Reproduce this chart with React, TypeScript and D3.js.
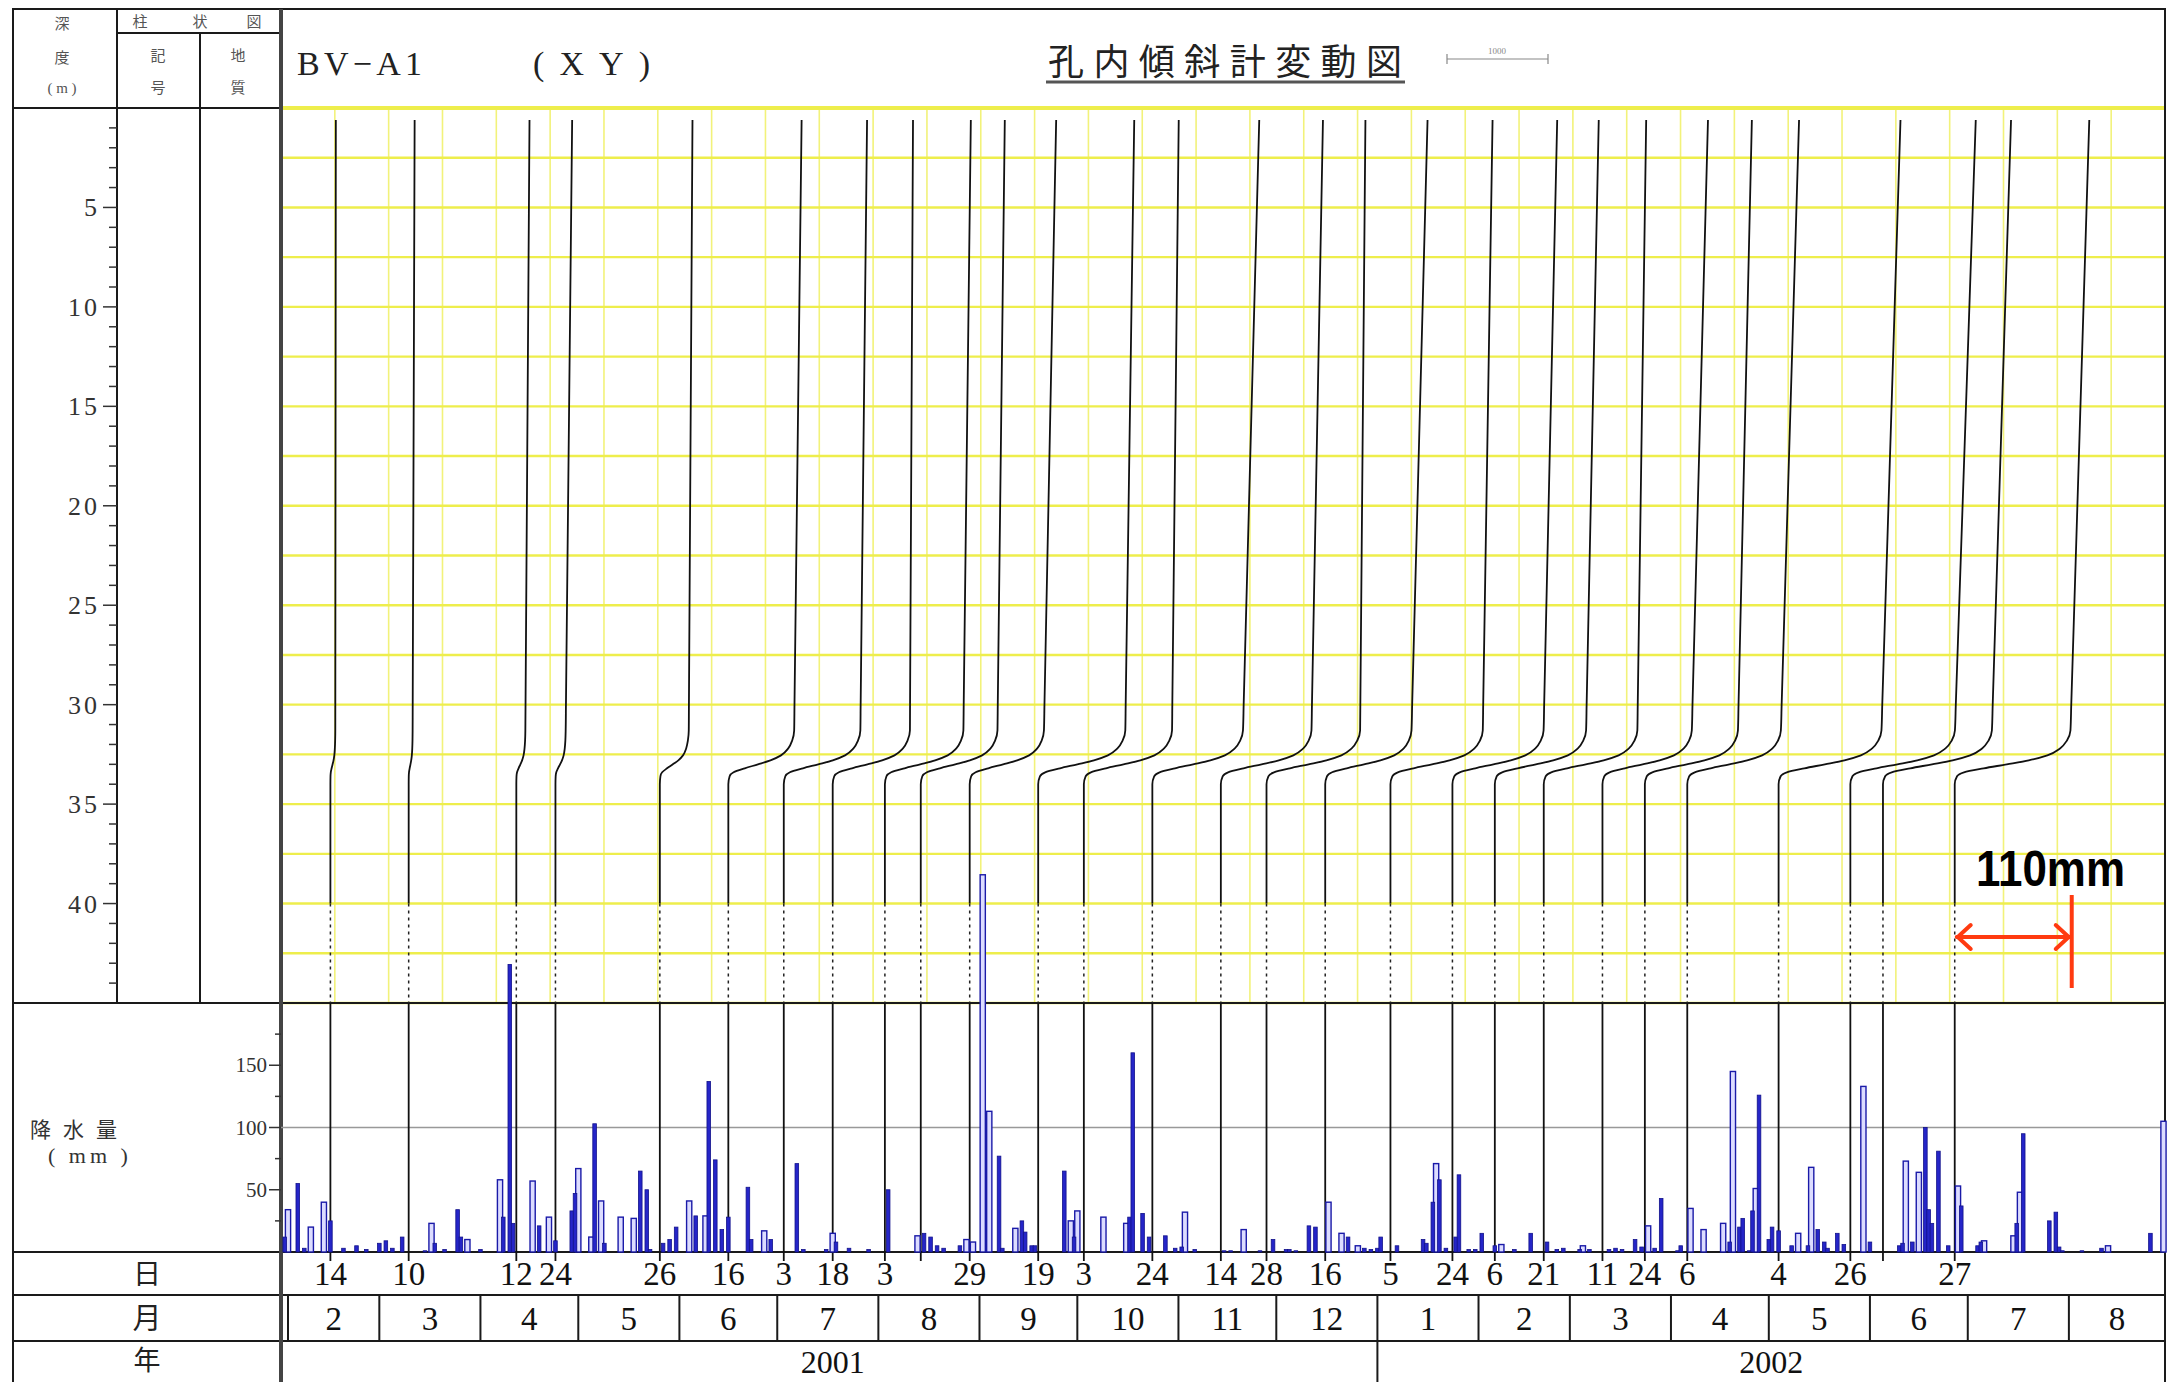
import React from 'react';
import * as d3 from 'd3';

const W = 2170, H = 1382;

// ---- data ----
const surveyDates = ['2001-02-14','2001-03-10','2001-04-12','2001-04-24','2001-05-26','2001-06-16','2001-07-03','2001-07-18','2001-08-03','2001-08-14','2001-08-29','2001-09-19','2001-10-03','2001-10-24','2001-11-14','2001-11-28','2001-12-16','2002-01-05','2002-01-24','2002-02-06','2002-02-21','2002-03-11','2002-03-24','2002-04-06','2002-05-04','2002-05-26','2002-06-05','2002-06-27'];
const dayLabels = ['14','10','12','24','26','16','3','18','3','','29','19','3','24','14','28','16','5','24','6','21','11','24','6','4','26','','27'];
// displacement (mm) just above the slip zone (~30 m) and at the top of the hole
const shearMm = [4.6,3.7,8.5,9.6,27.2,61.9,72.0,72.6,73.8,72.1,69.8,81.9,82.9,85.2,85.2,88.0,81.1,86.8,85.7,85.8,88.0,84.0,87.5,88.0,96.7,98.3,102.4,108.8];
const topMm = [5.1,5.6,12.4,15.7,30.7,68.9,78.3,75.5,80.8,79.0,81.3,90.3,89.2,100.5,96.0,93.0,96.2,96.0,98.5,97.7,96.3,99.2,100.6,105.1,114.6,117.9,120.4,126.5];
// shape of the slip zone: depth (m) and fraction of the shear displacement
const profileDepth = [31.3,31.8,32.2,32.55,32.8,33.0,33.2,33.4,33.6,34.0,40.0];
const profileFrac = [1.0,0.97,0.91,0.80,0.64,0.45,0.25,0.08,0.02,0,0];
const upperDepths = [0.6,10,20,30];

// daily precipitation: [day offset from 2001-02-01, mm]
const rainOutline = [[0,34],[7,20],[11,40],[44,23],[55,10],[65,58],[75,57],[80,28],[89,67],[93,12],[96,41],[102,28],[106,27],[123,41],[128,29],[146,17],[167,15],[193,13],[208,10],[210,8],[213,303],[215,113],[223,19],[240,25],[242,33],[250,28],[257,23],[275,32],[293,18],[319,40],[323,15],[328,5],[352,71],[372,6],[397,5],[417,21],[430,35],[434,18],[440,23],[443,145],[450,51],[463,15],[467,68],[483,133],[496,73],[500,64],[512,53],[520,9],[529,13],[531,48],[558,5],[575,105]];
const rainFilled = [[-1,12],[3,55],[5,3],[13,25],[17,3],[21,5],[24,2],[28,7],[30,9],[32,3],[35,12],[42,1],[45,7],[48,2],[52,34],[53,12],[59,2],[66,28],[68,231],[69,23],[77,21],[82,9],[87,33],[88,47],[94,103],[97,7],[108,65],[110,50],[111,2],[115,7],[117,10],[119,20],[125,29],[129,137],[131,74],[133,18],[135,28],[141,52],[142,10],[148,10],[156,71],[158,2],[165,2],[168,8],[172,3],[178,2],[184,50],[195,15],[197,12],[199,5],[201,3],[206,5],[218,77],[219,3],[225,25],[226,16],[228,5],[229,5],[238,65],[241,12],[258,28],[259,160],[262,31],[264,12],[269,13],[272,3],[274,4],[278,2],[287,1],[289,1],[298,1],[302,10],[306,2],[307,2],[309,1],[313,21],[315,20],[325,12],[330,3],[332,2],[334,3],[335,12],[340,5],[348,10],[349,7],[351,40],[353,58],[355,3],[358,12],[359,62],[362,2],[364,2],[366,15],[370,5],[376,2],[381,15],[386,8],[389,2],[391,3],[396,2],[399,2],[405,2],[407,3],[409,2],[413,10],[415,4],[419,3],[421,43],[426,1],[427,5],[442,8],[445,20],[446,27],[448,1],[449,33],[451,126],[454,10],[455,20],[457,17],[461,5],[466,5],[469,18],[471,8],[472,3],[475,15],[477,6],[485,8],[494,5],[495,7],[498,8],[502,100],[503,34],[504,23],[506,81],[509,5],[513,37],[518,5],[519,8],[530,23],[532,95],[540,25],[542,32],[543,4],[544,1],[550,1],[556,3],[571,15]];

const monthLabels = ['2','3','4','5','6','7','8','9','10','11','12','1','2','3','4','5','6','7','8'];
const yearLabels = ['2001','2002'];
const yearStarts = ['2001-02-01','2002-01-01'];
const depthTicks = [5,10,15,20,25,30,35,40];
const rainTicks = [50,100,150];
const annotationMm = 110;

// ---- layout ----
const L = 13, T = 9, R = 2165;
const C1 = 117, C2 = 200, P = 281;
const HB = 108, IB = 1003, RB = 1252, DB = 1295, MB = 1341;
const serif = '"Liberation Serif","DejaVu Serif",serif';
const cjk = '"Noto Sans CJK JP","Noto Sans CJK SC",sans-serif';

export default function App() {
  const parse = d3.timeParse('%Y-%m-%d');
  const t0 = new Date(2001, 1, 1);
  const t1 = new Date(2002, 8, 1);
  const x = d3.scaleTime().domain([t0, t1]).range([288, 2170]);
  const yD = d3.scaleLinear().domain([0, 45]).range([HB, IB]);
  const disp = d3.scaleLinear().domain([0, 110]).range([0, 117]);
  const yR = d3.scaleLinear().domain([0, 200]).range([RB, IB]);
  const line = d3.line<[number, number]>().x(p => p[0]).y(p => p[1]).curve(d3.curveMonotoneY);

  const bases = surveyDates.map(s => x(parse(s) as Date));

  const curvePath = (i: number) => {
    const b = bases[i], s = shearMm[i], t = topMm[i];
    const pts: [number, number][] = [];
    upperDepths.forEach(dz => {
      const d = s + (t - s) * (31.3 - dz) / (31.3 - 0.6);
      pts.push([b + disp(d), yD(dz)]);
    });
    profileDepth.forEach((dz, k) => pts.push([b + disp(s * profileFrac[k]), yD(dz)]));
    return line(pts) || '';
  };

  const monthStarts = monthLabels.map((_, i) => d3.timeMonth.offset(t0, i));
  const gridN = 35;
  const gridStep = (R - P) / gridN;
  const hGrid = d3.range(0, 45.01, 2.5);

  const lastBase = bases[bases.length - 1];
  const annX = lastBase + disp(annotationMm);
  const red = '#ff3a10';

  return (
    <svg width={W} height={H} style={{ position: 'absolute', left: 0, top: 0, background: '#fff' }}>
      <rect x={0} y={0} width={W} height={H} fill="#fff" />
      {/* yellow grid */}
      {d3.range(1, gridN).map(k => (
        <line key={'vg' + k} x1={P + k * gridStep} x2={P + k * gridStep} y1={HB} y2={IB} stroke="#f2f27a" strokeWidth={1.6} />
      ))}
      {hGrid.map((dz, k) => (
        <line key={'hg' + k} x1={P} x2={R} y1={yD(dz)} y2={yD(dz)} stroke="#eeee4c" strokeWidth={k === 0 ? 4 : 2.4} />
      ))}

      {/* frame */}
      <g stroke="#1a1a1a" strokeWidth={2} fill="none">
        <rect x={L} y={T} width={R - L} height={H + 10 - T} />
        <line x1={C1} x2={P} y1={33} y2={33} />
        <line x1={C2} x2={C2} y1={33} y2={IB} />
        <line x1={C1} x2={C1} y1={T} y2={IB} />
        <line x1={L} x2={P} y1={HB} y2={HB} />
        <line x1={L} x2={R} y1={IB} y2={IB} />
        <line x1={L} x2={R} y1={RB} y2={RB} />
        <line x1={L} x2={R} y1={DB} y2={DB} />
        <line x1={L} x2={R} y1={MB} y2={MB} />
        {monthStarts.map((m, i) => (
          <line key={'mb' + i} x1={x(m)} x2={x(m)} y1={DB} y2={MB} />
        ))}
        <line x1={x(parse(yearStarts[1]) as Date)} x2={x(parse(yearStarts[1]) as Date)} y1={MB} y2={H} />
      </g>
      <line x1={P} x2={P} y1={T} y2={H} stroke="#444" strokeWidth={4} />

      {/* depth axis */}
      <g stroke="#333" strokeWidth={1.5}>
        {d3.range(1, 45).map(dz => (
          <line key={'dt' + dz} x1={dz % 5 === 0 ? C1 - 14 : C1 - 8} x2={C1} y1={yD(dz)} y2={yD(dz)} />
        ))}
      </g>
      {depthTicks.map(dz => (
        <text key={'dl' + dz} x={100} y={yD(dz) + 9} textAnchor="end" fontFamily={serif} fontSize={26} letterSpacing={3} fill="#333">{dz}</text>
      ))}

      {/* precipitation axis */}
      <line x1={P} x2={R} y1={yR(100)} y2={yR(100)} stroke="#999" strokeWidth={1.5} />
      <g stroke="#333" strokeWidth={1.5}>
        {d3.range(25, 200, 25).map(v => (
          <line key={'rt' + v} x1={v % 50 === 0 ? P - 12 : P - 6} x2={P} y1={yR(v)} y2={yR(v)} />
        ))}
      </g>
      {rainTicks.map(v => (
        <text key={'rl' + v} x={267} y={yR(v) + 7} textAnchor="end" fontFamily={serif} fontSize={21} fill="#333">{v}</text>
      ))}
      <text x={30} y={1137} fontFamily={cjk} fontSize={21} letterSpacing={12} fill="#333">降水量</text>
      <text x={48} y={1163} fontFamily={serif} fontSize={22} letterSpacing={4} fill="#333">( mm )</text>

      {/* survey lines through the precipitation panel */}
      {bases.map((b, i) => (
        <g key={'sl' + i}>
          <line x1={b} x2={b} y1={yD(40)} y2={yD(45)} stroke="#222" strokeWidth={1.5} strokeDasharray="3,4" />
          <line x1={b} x2={b} y1={IB} y2={RB + 9} stroke="#111" strokeWidth={1.8} />
        </g>
      ))}

      {/* rainfall bars */}
      {rainOutline.map(([d, v], i) => {
        const cx = x(d3.timeDay.offset(t0, d));
        return <rect key={'ro' + i} x={cx - 2.6} y={yR(v)} width={5.2} height={RB - yR(v)} fill="#dcdcff" stroke="#1a1aa8" strokeWidth={1.4} />;
      })}
      {rainFilled.map(([d, v], i) => {
        const cx = x(d3.timeDay.offset(t0, d));
        return <rect key={'rf' + i} x={cx - 1.8} y={yR(v)} width={3.6} height={RB - yR(v)} fill="#2525c8" stroke="#12128a" strokeWidth={0.8} />;
      })}

      {/* inclinometer curves */}
      {bases.map((_, i) => (
        <path key={'cv' + i} d={curvePath(i)} fill="none" stroke="#111" strokeWidth={1.8} />
      ))}

      {/* 110 mm annotation */}
      <g stroke={red} strokeWidth={4} fill="none" strokeLinecap="round">
        <line x1={lastBase + 2} x2={annX - 2} y1={937} y2={937} />
        <polyline points={`${lastBase + 16},925 ${lastBase + 3},937 ${lastBase + 16},949`} />
        <polyline points={`${annX - 16},925 ${annX - 3},937 ${annX - 16},949`} />
        <line x1={annX} x2={annX} y1={895} y2={988} strokeLinecap="butt" />
      </g>
      <text x={1976} y={886} fontFamily='"Liberation Sans",Arial,sans-serif' fontWeight="bold" fontSize={50} textLength={149} lengthAdjust="spacingAndGlyphs" fill="#000">110mm</text>

      {/* header */}
      <text x={62} y={29} textAnchor="middle" fontFamily={cjk} fontSize={15} fill="#555">深</text>
      <text x={62} y={63} textAnchor="middle" fontFamily={cjk} fontSize={15} fill="#555">度</text>
      <text x={62} y={93} textAnchor="middle" fontFamily={serif} fontSize={15} fill="#555">( m )</text>
      <text x={140} y={27} textAnchor="middle" fontFamily={cjk} fontSize={15} fill="#555">柱</text>
      <text x={200} y={27} textAnchor="middle" fontFamily={cjk} fontSize={15} fill="#555">状</text>
      <text x={254} y={27} textAnchor="middle" fontFamily={cjk} fontSize={15} fill="#555">図</text>
      <text x={158} y={61} textAnchor="middle" fontFamily={cjk} fontSize={15} fill="#555">記</text>
      <text x={158} y={93} textAnchor="middle" fontFamily={cjk} fontSize={15} fill="#555">号</text>
      <text x={238} y={61} textAnchor="middle" fontFamily={cjk} fontSize={15} fill="#555">地</text>
      <text x={238} y={93} textAnchor="middle" fontFamily={cjk} fontSize={15} fill="#555">質</text>

      <text x={297} y={75} fontFamily={serif} fontSize={34} textLength={125} lengthAdjust="spacing" fill="#222">BV−A1</text>
      <text x={533} y={75} fontFamily={serif} fontSize={34} textLength={117} lengthAdjust="spacing" fill="#222">(XY)</text>
      <text x={1048} y={75} fontFamily={cjk} fontSize={36} textLength={354} lengthAdjust="spacing" fill="#222">孔内傾斜計変動図</text>
      <line x1={1046} x2={1405} y1={82} y2={82} stroke="#555" strokeWidth={3} />
      <g stroke="#888" strokeWidth={1.2}>
        <line x1={1447} x2={1548} y1={59} y2={59} />
        <line x1={1447} x2={1447} y1={54} y2={64} />
        <line x1={1548} x2={1548} y1={54} y2={64} />
      </g>
      <text x={1497} y={54} textAnchor="middle" fontFamily={serif} fontSize={9} fill="#888">1000</text>

      {/* bottom rows */}
      <text x={147} y={1284} textAnchor="middle" fontFamily={cjk} fontSize={28} fill="#222">日</text>
      <text x={147} y={1329} textAnchor="middle" fontFamily={cjk} fontSize={29} fill="#222">月</text>
      <text x={147} y={1370} textAnchor="middle" fontFamily={cjk} fontSize={27} fill="#222">年</text>
      {bases.map((b, i) => (
        <text key={'dy' + i} x={b} y={1285} textAnchor="middle" fontFamily={serif} fontSize={33} fill="#111">{dayLabels[i]}</text>
      ))}
      {monthStarts.map((m, i) => {
        const m2 = d3.timeMonth.offset(m, 1);
        const cx = (x(m) + Math.min(x(m2), R)) / 2;
        return <text key={'ml' + i} x={cx} y={1330} textAnchor="middle" fontFamily={serif} fontSize={33} fill="#111">{monthLabels[i]}</text>;
      })}
      {yearLabels.map((yl, i) => {
        const a = i === 0 ? x(parse(yearStarts[0]) as Date) : x(parse(yearStarts[1]) as Date);
        const b = i === 0 ? x(parse(yearStarts[1]) as Date) : R;
        return <text key={'yl' + i} x={(a + b) / 2} y={1373} textAnchor="middle" fontFamily={serif} fontSize={32} fill="#111">{yl}</text>;
      })}
      <line x1={288} x2={288} y1={DB} y2={MB} stroke="#1a1a1a" strokeWidth={2} />
    </svg>
  );
}
